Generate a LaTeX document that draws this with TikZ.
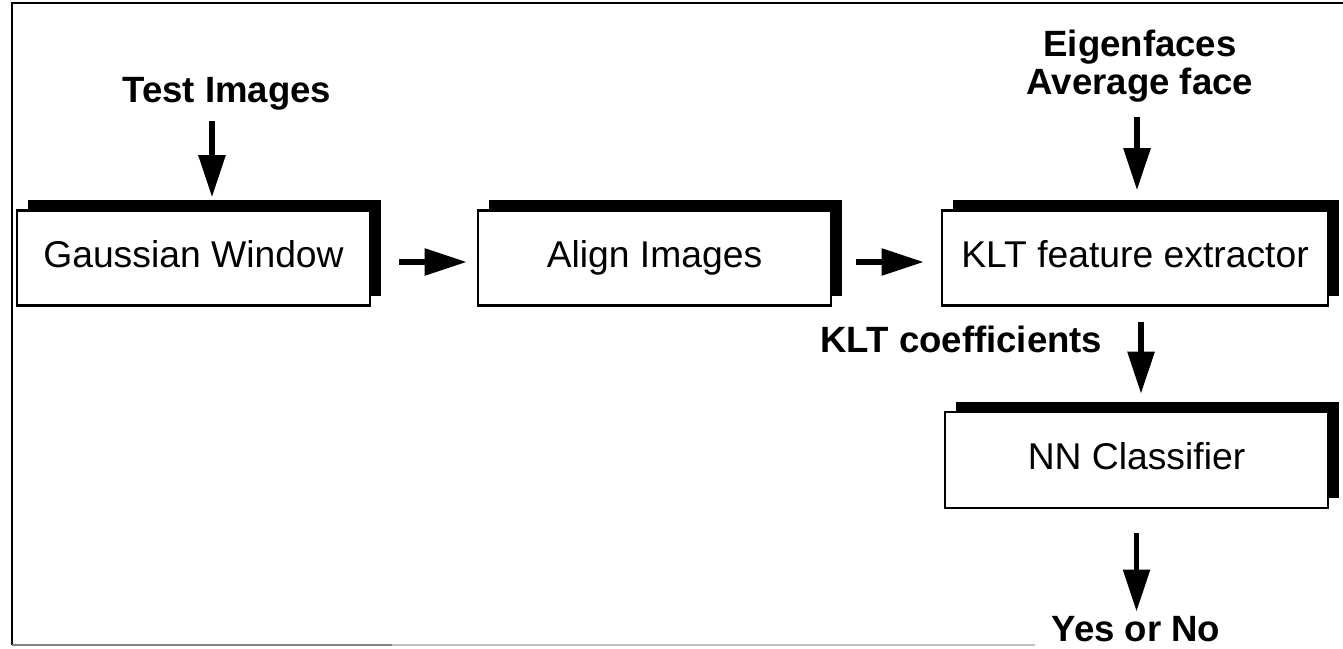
\documentclass[tikz,border=0pt]{standalone}
\usepackage{fontspec}
\setmainfont{Liberation Sans}
\usetikzlibrary{arrows.meta}
\usetikzlibrary{shadows}
\tikzset{>={Triangle[length=0.42cm,width=0.26cm]}}
\tikzset{
  blockbox/.style={draw,line width=0.7pt,fill=white,minimum height=0.95cm,
    font=\fontsize{10.6}{12}\selectfont,text height=0.72em,text depth=0.2em,
    general shadow={shadow xshift=0.11cm,shadow yshift=0.1cm,fill=black}},
  blocklabel/.style={font=\fontsize{10.4}{10.6}\selectfont\bfseries,align=center,inner sep=0pt},
  flow/.style={->,line width=1.6pt}
}

\begin{document}
\begin{tikzpicture}[x=0.01cm,y=-0.01cm]
  \useasboundingbox (0,0) rectangle (1343,648);

  % frame
  \draw[line width=0.7pt] (1343,3) -- (12,3) -- (12,645);
  \draw[gray,line width=0.6pt] (12,645) -- (392,645);
  \draw[gray!50,line width=0.5pt] (392,645) -- (1035,645);

  % blocks
  \node[blockbox,minimum width=3.53cm] (gauss) at (193.5,258) {Gaussian Window};
  \node[blockbox,minimum width=3.53cm] (align) at (654.5,258) {Align Images};
  \node[blockbox,minimum width=3.86cm] (klt) at (1135,258) {KLT feature extractor};
  \node[blockbox,minimum width=3.83cm,minimum height=0.96cm] (nn) at (1136.5,460) {NN Classifier};

  % labels
  \node[blocklabel] (test) at (227,94) {Test Images};
  \node[blocklabel] (eigen) at (1140,66) {Eigenfaces\\Average face};
  \node[blocklabel,anchor=base east] (coef) at (1103,352) {KLT coefficients};
  \node[blocklabel] (yesno) at (1136,629) {Yes or No};

  % arrows
  \draw[flow] ([xshift=-0.15cm,yshift=-0.1cm]test.south) -- ([xshift=-0.15cm,yshift=0.12cm]test.south |- gauss.north);
  \draw[flow] ([xshift=-0.03cm,yshift=-0.15cm]eigen.south) -- ([xshift=-0.03cm,yshift=0.19cm]eigen.south |- klt.north);
  \draw[flow] ([yshift=-0.04cm,xshift=0.28cm]gauss.east) -- ([yshift=-0.04cm,xshift=-0.1cm]align.west);
  \draw[flow] ([yshift=-0.04cm,xshift=0.24cm]align.east) -- ([yshift=-0.04cm,xshift=-0.17cm]klt.west);
  \draw[flow] ([xshift=0.06cm,yshift=-0.15cm]klt.south) -- ([xshift=0.06cm,yshift=0.17cm]klt.south |- nn.north);
  \draw[flow] ([yshift=-0.24cm]nn.south) -- ([yshift=0.04cm]nn.south |- yesno.north);
\end{tikzpicture}
\end{document}
